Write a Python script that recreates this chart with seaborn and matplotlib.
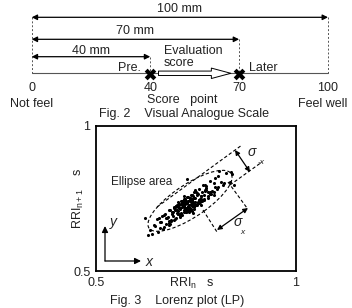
import numpy as np
import pandas as pd
import matplotlib
matplotlib.use("Agg")
import matplotlib.pyplot as plt
import seaborn as sns
from matplotlib.patches import Ellipse

# ---- Fig. 2 data (Visual Analogue Scale) ----
vas_ticks = [0, 40, 70, 100]
vas_tick_labels = ["0", "40", "70", "100"]
vas_spans = [100, 70, 40]
vas_span_labels = ["100 mm", "70 mm", "40 mm"]
scores = [40, 70]          # Pre. -> Later

# ---- Fig. 3 data (Lorenz plot): successive RR intervals [s] ----
rri = [
    0.720, 0.724, 0.706, 0.737, 0.730, 0.742, 0.701, 0.723, 0.732, 0.706,
    0.721, 0.719, 0.757, 0.744, 0.715, 0.721, 0.740, 0.706, 0.707, 0.731,
    0.720, 0.748, 0.753, 0.769, 0.747, 0.781, 0.772, 0.775, 0.794, 0.763,
    0.758, 0.744, 0.771, 0.763, 0.726, 0.734, 0.712, 0.699, 0.724, 0.703,
    0.701, 0.683, 0.712, 0.692, 0.688, 0.671, 0.694, 0.676, 0.663, 0.669,
    0.652, 0.681, 0.686, 0.709, 0.696, 0.718, 0.729, 0.712, 0.741, 0.738,
    0.761, 0.749, 0.774, 0.785, 0.767, 0.796, 0.802, 0.784, 0.812, 0.806,
    0.791, 0.776, 0.779, 0.752, 0.761, 0.739, 0.745, 0.727, 0.733, 0.716,
    0.738, 0.709, 0.714, 0.693, 0.702, 0.727, 0.717, 0.742, 0.735, 0.751,
    0.728, 0.754, 0.766, 0.741, 0.749, 0.727, 0.817, 0.796, 0.773, 0.781,
    0.758, 0.736, 0.745, 0.719, 0.703, 0.711, 0.689, 0.697, 0.678, 0.684,
    0.661, 0.668, 0.646, 0.657, 0.683, 0.672, 0.698, 0.711, 0.694, 0.722,
    0.716, 0.733, 0.729, 0.756, 0.739, 0.762, 0.758, 0.784, 0.773, 0.797,
    0.819, 0.804, 0.826, 0.838, 0.841, 0.835, 0.807, 0.845, 0.797, 0.788,
    0.764, 0.771, 0.746, 0.752, 0.731, 0.724, 0.702, 0.709, 0.687, 0.676,
    0.682, 0.659, 0.648, 0.655, 0.636, 0.641, 0.629, 0.623, 0.683, 0.664,
    0.691, 0.704, 0.697, 0.719, 0.712, 0.731, 0.708, 0.726, 0.743, 0.738,
    0.715, 0.731, 0.722, 0.748, 0.737, 0.711, 0.718, 0.739, 0.725, 0.716,
    0.742, 0.757, 0.734, 0.741, 0.762, 0.749, 0.728, 0.736, 0.753, 0.729,
    0.714, 0.733, 0.704, 0.698, 0.721, 0.744, 0.732, 0.719, 0.737,
]
lp_ticks = [0.5, 1.0]
lp_tick_labels = ["0.5", "1"]

sns.set_style("white")
plt.rcParams["font.family"] = ["Liberation Sans", "DejaVu Sans"]
plt.rcParams["mathtext.fontset"] = "custom"
plt.rcParams["mathtext.rm"] = "Liberation Sans"
plt.rcParams["mathtext.it"] = "Liberation Sans:italic"
TXT = "#222222"
FS = 9

fig = plt.figure(figsize=(3.52, 3.08), dpi=100)

# ---------------- Fig. 2 ----------------
# x in score units (0..100 -> 32..328 px), y in pixels from top
ax1 = fig.add_axes([0, 188 / 308, 1, 120 / 308])
ax1.set_xlim(-31.7 / 2.963, (352 - 31.7) / 2.963)
ax1.set_ylim(120, 0)
ax1.axis("off")

line_y = 73.3
span_y = [17.3, 39.3, 56.7]
span_label_y = [9.5, 31.5, 50.5]
for span, lab, y, ly in zip(vas_spans, vas_span_labels, span_y, span_label_y):
    ax1.annotate("", xy=(span, y), xytext=(0, y),
                 arrowprops=dict(arrowstyle="<|-|>", color="black", lw=0.9,
                                 mutation_scale=8, shrinkA=0, shrinkB=0))
    ax1.text(span / 2, ly, lab, ha="center", va="center", fontsize=FS, color=TXT)
    ax1.plot([span, span], [y, line_y], ls=(0, (2, 2)), lw=0.7, color="#555555")
ax1.plot([0, 0], [span_y[0], line_y], ls=(0, (2, 2)), lw=0.7, color="#555555")

ax1.plot([0, 100], [line_y, line_y], lw=0.8, color="#555555")

# hollow arrow Pre. -> Later
ax1.annotate("", xy=(scores[1] - 2.8, line_y), xytext=(scores[0] + 2.8, line_y),
             arrowprops=dict(arrowstyle="simple,head_length=1.4,head_width=0.75,tail_width=0.32",
                             fc="white", ec="black", lw=0.7, mutation_scale=10,
                             shrinkA=0, shrinkB=0))
sns.scatterplot(x=scores, y=[line_y + 0.5] * 2, marker="X", s=70, color="black",
                linewidth=0, ax=ax1, zorder=5)

for t, lab in zip(vas_ticks, vas_tick_labels):
    ax1.text(t, 88, lab, ha="center", va="center", fontsize=FS, color=TXT)
ax1.text(0, 104, "Not feel", ha="center", va="center", fontsize=FS, color=TXT)
ax1.text(106.7, 104, "Feel well", ha="right", va="center", fontsize=FS, color=TXT)
ax1.text(39.0, 100, "Score   point", ha="left", va="center", fontsize=FS, color=TXT)
ax1.text(36.9, 68, "Pre.", ha="right", va="center", fontsize=FS, color=TXT)
ax1.text(73.3, 68, "Later", ha="left", va="center", fontsize=FS, color=TXT)
ax1.text(44.6, 51.5, "Evaluation", ha="left", va="center", fontsize=FS, color=TXT)
ax1.text(44.6, 63.5, "score", ha="left", va="center", fontsize=FS, color=TXT)
ax1.text(51.4, 114, "Fig. 2    Visual Analogue Scale", ha="center", va="center",
         fontsize=FS, color=TXT)

# ---------------- Fig. 3 ----------------
ax2 = fig.add_axes([96 / 352, 37 / 308, 200 / 352, 145 / 308])
df = pd.DataFrame({"rri_n": rri[:-1], "rri_n1": rri[1:]})
sns.scatterplot(data=df, x="rri_n", y="rri_n1", s=5, color="black",
                linewidth=0, ax=ax2)
ax2.set_xlim(0.5, 1)
ax2.set_ylim(0.5, 1)
ax2.set_xticks(lp_ticks, lp_tick_labels)
ax2.set_yticks(lp_ticks, lp_tick_labels)
ax2.tick_params(length=0, labelsize=FS, labelcolor=TXT, pad=4)
for s in ax2.spines.values():
    s.set_color("black")
    s.set_linewidth(1.3)
ax2.set_xlabel("")
ax2.set_ylabel("")
ax2.text(0.48, -0.083, r"RRI$_\mathregular{n}$   s", transform=ax2.transAxes,
         ha="center", va="center", fontsize=FS, color=TXT)
ax2.text(-0.09, 0.5, r"RRI$_\mathregular{n+1}$    s", transform=ax2.transAxes,
         rotation=90, ha="center", va="center", fontsize=FS, color=TXT)

ax2.add_patch(Ellipse((0.735, 0.742), width=0.28, height=0.1, angle=45,
                      fill=False, ls=(0, (3, 2)), lw=0.8, ec="black"))
dash = dict(ls=(0, (3, 2)), lw=0.8, color="black")
ax2.plot([0.6525, 0.865], [0.7207, 0.9345], **dash)
ax2.plot([0.835, 0.915], [0.7966, 0.8759], **dash)
ax2.plot([0.83, 0.8775], [0.8069, 0.7172], **dash)
ax2.plot([0.7675, 0.8025], [0.7103, 0.6345], **dash)
two = dict(arrowstyle="<|-|>", color="black", lw=0.9, mutation_scale=7,
           shrinkA=0, shrinkB=0)
ax2.annotate("", xy=(0.8475, 0.9172), xytext=(0.885, 0.8414), arrowprops=two)
ax2.annotate("", xy=(0.8025, 0.6414), xytext=(0.88, 0.7172), arrowprops=two)
ax2.text(0.89, 0.912, "σ", fontsize=10, style="italic", color=TXT, ha="center", va="center")
ax2.text(0.912, 0.875, "-x", fontsize=6, style="italic", color=TXT, ha="center", va="center")
ax2.text(0.855, 0.67, "σ", fontsize=10, style="italic", color=TXT, ha="center", va="center")
ax2.text(0.865, 0.634, "x", fontsize=6, style="italic", color=TXT, ha="center", va="center")
ax2.text(0.5375, 0.807, "Ellipse area", fontsize=8.5, color=TXT, ha="left", va="center")

one = dict(arrowstyle="-|>", color="black", lw=0.9, mutation_scale=9,
           shrinkA=0, shrinkB=0)
ax2.annotate("", xy=(0.5225, 0.655), xytext=(0.5225, 0.5345), arrowprops=one)
ax2.annotate("", xy=(0.6125, 0.5345), xytext=(0.5225, 0.5345), arrowprops=one)
ax2.text(0.5425, 0.668, "y", fontsize=10, style="italic", color=TXT, ha="center", va="center")
ax2.text(0.632, 0.53, "x", fontsize=10, style="italic", color=TXT, ha="center", va="center")

fig.text(177 / 352, 1 - 301 / 308, "Fig. 3    Lorenz plot (LP)", ha="center",
         va="center", fontsize=FS, color=TXT)

fig.savefig("out.png", dpi=100)
